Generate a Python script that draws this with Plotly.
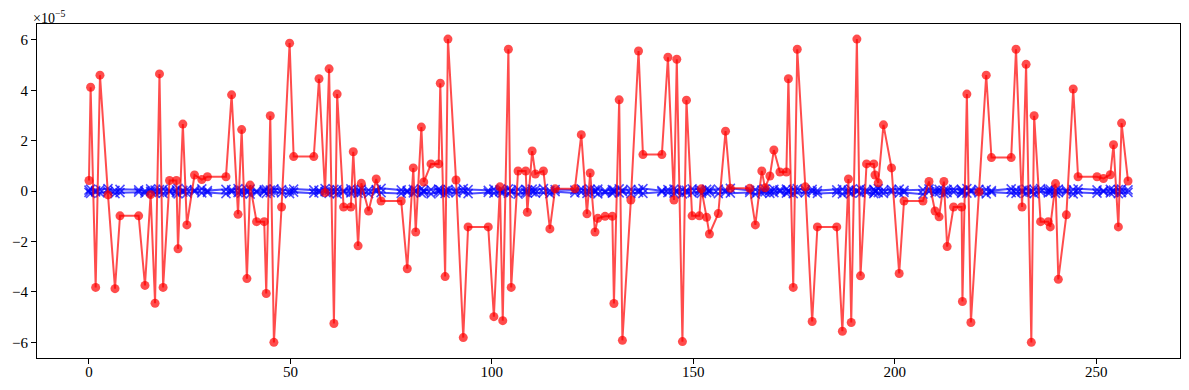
import plotly.graph_objects as go

# sample positions (shared by all series)
t = [0.0, 0.41, 1.66, 2.73, 4.72, 6.46, 7.70, 12.33, 13.9, 15.3, 16.4, 17.5,
     18.4, 20.0, 21.7, 22.1, 23.3, 24.3, 26.2, 28.0, 29.4, 34.0, 35.4, 37.0,
     37.9, 39.2, 40.0, 41.6, 43.5, 44.0, 45.0, 45.9, 47.8, 49.8, 50.8, 55.8,
     57.1, 58.6, 59.6, 60.8, 61.6, 63.2, 65.0, 65.6, 66.8, 67.6, 69.4, 71.3,
     72.5, 77.5, 79.0, 80.5, 81.1, 82.5, 83.1, 84.9, 86.8, 87.2, 88.4, 89.1,
     91.1, 92.9, 94.1, 99.1, 100.5, 102.0, 102.7, 104.1, 104.8, 106.5, 108.4, 108.8,
     110.0, 110.8, 112.8, 114.4, 115.7, 120.6, 122.2, 123.6, 124.4, 125.6, 126.3, 128.1,
     129.9, 130.3, 131.6, 132.4, 134.5, 136.4, 137.5, 142.2, 143.7, 145.2, 145.9, 147.3,
     148.3, 149.7, 151.5, 152.0, 153.3, 154.0, 156.2, 158.0, 159.2, 164.0, 165.4, 167.0,
     167.8, 169.0, 170.0, 171.5, 173.1, 173.6, 174.8, 175.8, 177.8, 179.5, 180.8, 185.6,
     187.0, 188.5, 189.2, 190.6, 191.5, 193.0, 194.8, 195.1, 195.9, 197.2, 199.2, 201.1,
     202.3, 207.0, 208.5, 210.0, 211.0, 212.2, 213.0, 214.6, 216.6, 216.8, 217.9, 218.9,
     220.9, 222.7, 224.0, 228.9, 230.1, 231.6, 232.6, 233.9, 234.6, 236.2, 238.1, 238.6,
     239.9, 240.6, 242.6, 244.3, 245.5, 250.2, 251.8, 253.5, 254.3, 255.5, 256.3, 257.9]

# red series, in units of 1e-5
red = [0.42, 4.12, -3.82, 4.60, -0.15, -3.87, -0.98, -0.98, -3.74, -0.14, -4.45, 4.65,
       -3.82, 0.42, 0.42, -2.29, 2.66, -1.34, 0.64, 0.46, 0.57, 0.57, 3.82, -0.92,
       2.44, -3.47, 0.24, -1.21, -1.21, -4.06, 2.99, -6.00, -0.63, 5.87, 1.37, 1.37,
       4.46, -0.06, 4.85, -5.25, 3.85, -0.63, -0.63, 1.56, -2.17, 0.31, -0.79, 0.48,
       -0.39, -0.39, -3.08, 0.92, -1.62, 2.54, 0.36, 1.08, 1.08, 4.28, -3.39, 6.03,
       0.44, -5.81, -1.42, -1.42, -4.98, 0.17, -5.14, 5.63, -3.82, 0.80, 0.80, -0.84,
       1.59, 0.68, 0.80, -1.50, 0.09, 0.09, 2.24, -0.90, 0.72, -1.62, -1.08, -1.00,
       -1.00, -4.46, 3.62, -5.92, -0.35, 5.56, 1.45, 1.45, 5.31, -0.35, 5.23, -5.97,
       3.61, -0.98, -0.98, 0.09, -1.04, -1.70, -0.89, 2.38, 0.11, 0.11, -1.34, 0.80,
       0.13, 0.60, 1.63, 0.76, 0.76, 4.46, -3.82, 5.63, 0.17, -5.17, -1.42, -1.42,
       -5.56, 0.48, -5.21, 6.03, -3.36, 1.08, 1.08, 0.64, 0.33, 2.63, 0.92, -3.27,
       -0.39, -0.39, 0.38, -0.79, -1.02, 0.38, -2.20, -0.63, -0.63, -4.38, 3.85, -5.21,
       -0.03, 4.60, 1.33, 1.33, 5.63, -0.63, 5.03, -6.00, 2.99, -1.21, -1.21, -1.42,
       0.30, -3.50, -0.94, 4.05, 0.57, 0.57, 0.50, 0.65, 1.84, -1.42, 2.70, 0.40]

# blue series (near zero), in units of 1e-5
blue_a = [0.04, 0.08, 0.02, 0.06, 0.10, 0.03, 0.07, 0.05, 0.01, 0.09, 0.04, 0.06,
          0.08, 0.02, 0.05, 0.11, 0.03, 0.06, 0.04, 0.09, 0.02, 0.07, 0.05, 0.10,
          0.03, 0.06, 0.08, 0.01, 0.05, 0.07, 0.04, 0.09, 0.06, 0.02, 0.08, 0.05,
          0.03, 0.10, 0.04, 0.07, 0.06, 0.02, 0.09, 0.05, 0.03, 0.08, 0.04, 0.06,
          0.11, 0.05, 0.02, 0.07, 0.04, 0.09, 0.03, 0.06, 0.08, 0.05, 0.01, 0.07,
          0.04, 0.10, 0.06, 0.03, 0.08, 0.05, 0.02, 0.09, 0.04, 0.07, 0.06, 0.03,
          0.08, 0.05, 0.10, 0.02, 0.06, 0.04, 0.09, 0.03, 0.07, 0.05, 0.08, 0.01,
          0.06, 0.04, 0.09, 0.03, 0.07, 0.05, 0.10, 0.02, 0.06, 0.08, 0.04, 0.05,
          0.03, 0.09, 0.06, 0.02, 0.07, 0.04, 0.08, 0.05, 0.11, 0.03, 0.06, 0.04,
          0.09, 0.02, 0.07, 0.05, 0.08, 0.03, 0.06, 0.10, 0.04, 0.07, 0.02, 0.05,
          0.08, 0.04, 0.06, 0.03, 0.09, 0.05, 0.07, 0.02, 0.10, 0.04, 0.06, 0.08,
          0.03, 0.05, 0.09, 0.04, 0.07, 0.02, 0.06, 0.08, 0.05, 0.03, 0.10, 0.04,
          0.07, 0.06, 0.02, 0.09, 0.05, 0.03, 0.08, 0.04, 0.06, 0.10, 0.05, 0.07,
          0.03, 0.08, 0.04, 0.06, 0.09, 0.05, 0.02, 0.07, 0.04, 0.06, 0.08, 0.05]

blue_b = [-0.05, -0.09, -0.03, -0.07, -0.02, -0.10, -0.06, -0.04, -0.08, -0.01, -0.07, -0.05,
          -0.09, -0.03, -0.06, -0.11, -0.04, -0.08, -0.02, -0.07, -0.05, -0.10, -0.03, -0.06,
          -0.08, -0.04, -0.12, -0.05, -0.02, -0.09, -0.06, -0.03, -0.07, -0.10, -0.04, -0.08,
          -0.05, -0.02, -0.09, -0.06, -0.11, -0.03, -0.07, -0.04, -0.08, -0.05, -0.10, -0.02,
          -0.06, -0.09, -0.04, -0.07, -0.03, -0.08, -0.05, -0.11, -0.02, -0.06, -0.09, -0.04,
          -0.07, -0.03, -0.10, -0.05, -0.08, -0.02, -0.06, -0.09, -0.04, -0.12, -0.05, -0.07,
          -0.03, -0.08, -0.06, -0.10, -0.02, -0.07, -0.04, -0.09, -0.05, -0.03, -0.11, -0.06,
          -0.08, -0.04, -0.07, -0.02, -0.10, -0.05, -0.09, -0.03, -0.06, -0.08, -0.04, -0.11,
          -0.05, -0.07, -0.02, -0.09, -0.06, -0.03, -0.10, -0.04, -0.08, -0.05, -0.12, -0.07,
          -0.03, -0.09, -0.06, -0.02, -0.08, -0.04, -0.10, -0.05, -0.07, -0.03, -0.09, -0.06,
          -0.11, -0.04, -0.08, -0.02, -0.07, -0.05, -0.10, -0.03, -0.06, -0.09, -0.04, -0.08,
          -0.05, -0.12, -0.02, -0.07, -0.03, -0.10, -0.06, -0.04, -0.09, -0.05, -0.08, -0.02,
          -0.07, -0.11, -0.04, -0.06, -0.09, -0.03, -0.08, -0.05, -0.10, -0.02, -0.07, -0.04,
          -0.09, -0.06, -0.03, -0.11, -0.05, -0.08, -0.02, -0.07, -0.04, -0.10, -0.06, -0.05]

x_ticks = [0, 50, 100, 150, 200, 250]
y_ticks = [-6, -4, -2, 0, 2, 4, 6]
y_tick_text = ["\u22126", "\u22124", "\u22122", "0", "2", "4", "6"]

BLUE = "rgba(0,0,255,0.7)"
RED = "rgba(255,0,0,0.7)"
FONT = "Liberation Serif"

fig = go.Figure()
for yb in (blue_a, blue_b):
    fig.add_trace(go.Scatter(
        x=t, y=yb, mode="lines+markers",
        line=dict(color=BLUE, width=2),
        marker=dict(symbol="x-thin", size=9, color=BLUE,
                    line=dict(color=BLUE, width=1.5)),
        showlegend=False, hoverinfo="skip"))

fig.add_trace(go.Scatter(
    x=t, y=red, mode="lines+markers",
    line=dict(color=RED, width=2),
    marker=dict(symbol="circle", size=9, color=RED, line=dict(width=0)),
    showlegend=False))

axis_common = dict(
    showgrid=False, zeroline=False, showline=True, linecolor="black",
    linewidth=1, mirror=True, ticks="outside", ticklen=5, tickwidth=1,
    tickcolor="black", tickfont=dict(family=FONT, size=15, color="black"),
    automargin=False,
)

fig.update_xaxes(range=[-12.9, 270.8], tickmode="array", tickvals=x_ticks,
                 ticktext=[str(v) for v in x_ticks], ticklabelstandoff=-5,
                 **axis_common)
fig.update_yaxes(range=[-6.62, 6.63], tickmode="array", tickvals=y_ticks,
                 ticktext=y_tick_text, **axis_common)

fig.add_annotation(xref="paper", yref="paper", x=0, y=1, xanchor="left",
                   yanchor="bottom", yshift=-4, xshift=-6, showarrow=False,
                   text="\u00d710<sup>\u22125</sup>",
                   font=dict(family=FONT, size=14, color="black"))

# page body has an 8px default margin, so the figure is sized to fit inside it
fig.update_layout(
    width=1173, height=374,
    margin=dict(l=29, r=1, t=16, b=24, autoexpand=False),
    plot_bgcolor="white", paper_bgcolor="white",
)

fig.write_html("out.html")
